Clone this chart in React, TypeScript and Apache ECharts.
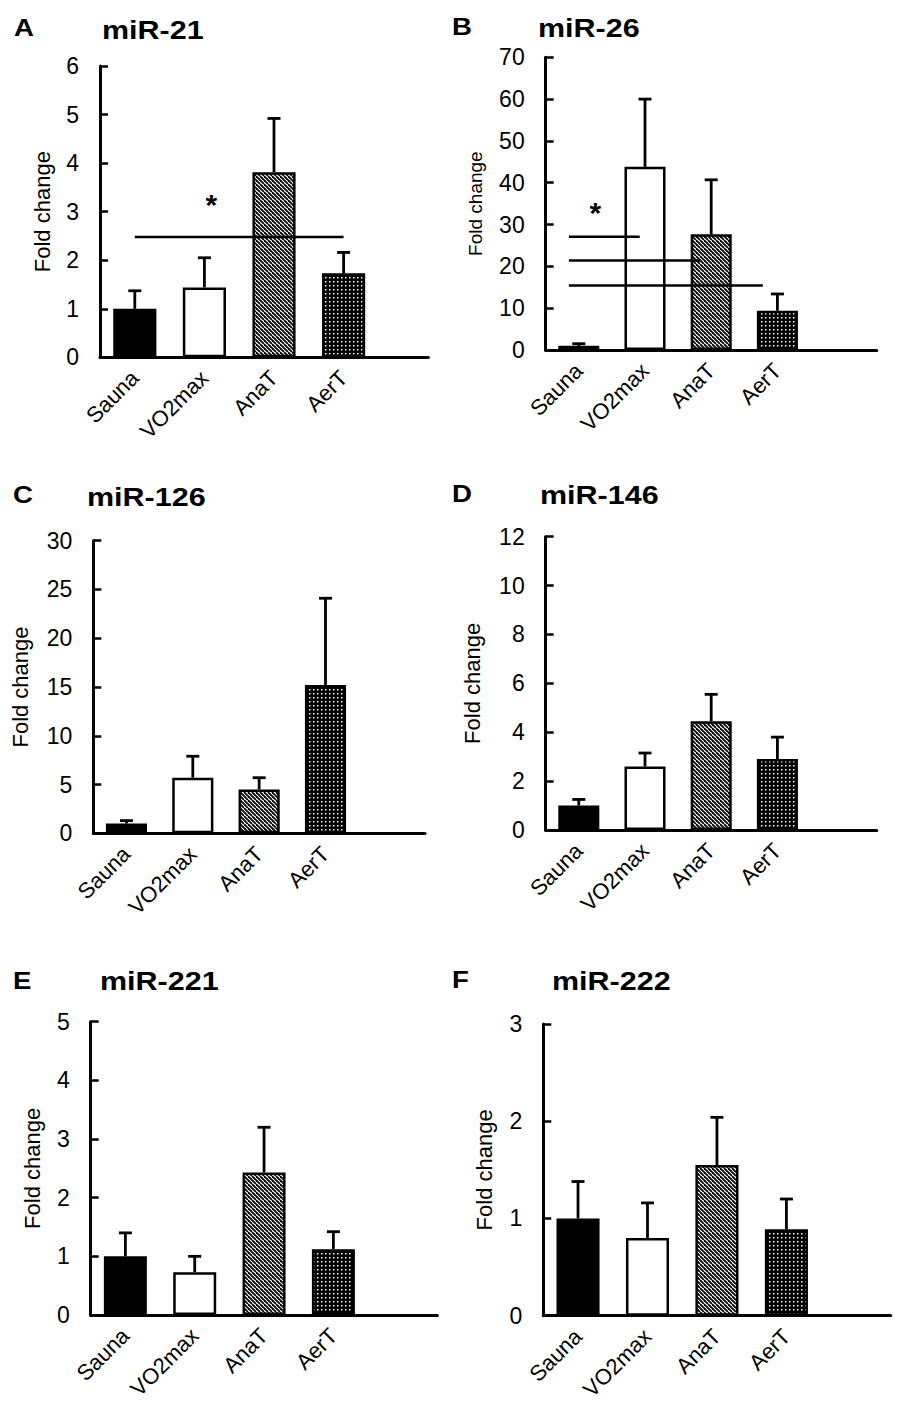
import React, { useEffect, useRef } from "react";
import * as echarts from "echarts";

// ---------------- data ----------------
const categories = ["Sauna", "VO2max", "AnaT", "AerT"];
const panelLetters = ["A", "B", "C", "D", "E", "F"];
const panelTitles = ["miR-21", "miR-26", "miR-126", "miR-146", "miR-221", "miR-222"];

const meanA = [1.0, 1.44, 3.81, 1.73];
const errA = [1.37, 2.05, 4.92, 2.16];
const meanB = [1.0, 43.8, 27.7, 9.4];
const errB = [1.5, 60.0, 40.7, 13.4];
const meanC = [1.0, 5.7, 4.5, 15.2];
const errC = [1.3, 7.9, 5.7, 24.1];
const meanD = [1.0, 2.6, 4.45, 2.9];
const errD = [1.25, 3.15, 5.55, 3.8];
const meanE = [1.0, 0.73, 2.43, 1.12];
const errE = [1.4, 1.0, 3.2, 1.42];
const meanF = [1.0, 0.8, 1.55, 0.89];
const errF = [1.38, 1.16, 2.04, 1.2];

const yMaxes = [6, 70, 30, 12, 5, 3];
const ySteps = [1, 10, 5, 2, 1, 1];

// significance lines: [from (category units), to (category units), y]
const sigA = [[0, 3, 2.48]];
const sigB = [
  [-0.15, 0.92, 27.1],
  [-0.15, 1.84, 21.4],
  [-0.15, 2.78, 15.4],
];
const starA = [[1.1, 3.15]];
const starB = [[0.25, 32.8]];
const sigEmpty: number[][] = [];

const means = [meanA, meanB, meanC, meanD, meanE, meanF];
const errs = [errA, errB, errC, errD, errE, errF];
const sigs = [sigA, sigB, sigEmpty, sigEmpty, sigEmpty, sigEmpty];
const stars = [starA, starB, sigEmpty, sigEmpty, sigEmpty, sigEmpty];

// ---------------- layout ----------------
const FONT = "'Liberation Sans', Arial, Helvetica, sans-serif";
const layout = [
  { left: 100, top: 66, height: 291.3, width: 348, line: 328.3, nameGap: 47, nameSize: 22 },
  { left: 545.7, top: 57.3, height: 292.7, width: 331, line: 331, nameGap: 61, nameSize: 19 },
  { left: 93.3, top: 540.7, height: 292.6, width: 331.7, line: 331.7, nameGap: 62, nameSize: 22 },
  { left: 545.7, top: 536.7, height: 293.3, width: 331, line: 331, nameGap: 62, nameSize: 22 },
  { left: 90.7, top: 1021.7, height: 293.3, width: 346.7, line: 346.7, nameGap: 47, nameSize: 22 },
  { left: 543.3, top: 1024, height: 291.7, width: 347.3, line: 347.3, nameGap: 48, nameSize: 22 },
];
const letterPos = [
  [14, 27.7], [452, 26.7], [13, 494.7], [452, 493.3], [13, 980.8], [452, 980],
];
const titlePos = [
  [102, 30], [538, 28.7], [87, 497.5], [540, 495], [100, 981.7], [552, 981.3],
];

function makeHatch(): string {
  const c = document.createElement("canvas");
  c.width = 8;
  c.height = 8;
  const ctx = c.getContext("2d")!;
  ctx.fillStyle = "#fff";
  ctx.fillRect(0, 0, 8, 8);
  ctx.strokeStyle = "#000";
  ctx.lineWidth = 1.8;
  for (let k = -8; k <= 8; k += 4) {
    ctx.beginPath();
    ctx.moveTo(k, 0);
    ctx.lineTo(k + 8, 8);
    ctx.stroke();
  }
  return c.toDataURL();
}

function makeDots(): string {
  const c = document.createElement("canvas");
  c.width = 8;
  c.height = 8;
  const ctx = c.getContext("2d")!;
  ctx.fillStyle = "#000";
  ctx.fillRect(0, 0, 8, 8);
  ctx.fillStyle = "#fff";
  for (let x = 1; x < 8; x += 4) {
    for (let y = 1; y < 8; y += 4) {
      ctx.fillRect(x, y, 1.5, 1.5);
    }
  }
  return c.toDataURL();
}

export default function App() {
  const ref = useRef<HTMLDivElement>(null);

  useEffect(() => {
    document.body.style.margin = "0";
    if (!ref.current) return;
    const chart = echarts.init(ref.current, null, { renderer: "svg" });

    const hatch = { image: makeHatch(), repeat: "repeat", imageWidth: 8, imageHeight: 8 };
    const dots = { image: makeDots(), repeat: "repeat", imageWidth: 8, imageHeight: 8 };
    const fills: any[] = ["#000", "#fff", hatch, dots];

    const grids: any[] = [];
    const xAxes: any[] = [];
    const yAxes: any[] = [];
    const series: any[] = [];
    const graphics: any[] = [];

    layout.forEach((L) => {
      grids.push({ left: L.left, top: L.top, width: L.width, height: L.height });
    });
    layout.forEach((L) => {
      grids.push({ left: L.left, top: L.top, width: L.line, height: L.height });
    });

    layout.forEach((L, p) => {
      // category axis (labels only)
      xAxes.push({
        type: "category",
        gridIndex: p,
        data: [...categories, ""],
        axisLine: { show: false, onZero: false },
        axisTick: { show: false },
        axisLabel: {
          rotate: 45,
          interval: 0,
          margin: 17,
          fontSize: 22,
          color: "#000",
          fontFamily: FONT,
        },
      });
      // hidden value axis for significance marks (category units)
      xAxes.push({
        type: "value",
        gridIndex: p,
        position: "top",
        min: -0.5,
        max: 4.5,
        show: false,
        axisLine: { onZero: false },
      });
      // baseline axis
      xAxes.push({
        type: "value",
        gridIndex: 6 + p,
        min: 0,
        max: 1,
        axisLine: { show: true, onZero: false, lineStyle: { color: "#000", width: 3 } },
        axisTick: { show: false },
        axisLabel: { show: false },
        splitLine: { show: false },
      });

      yAxes.push({
        type: "value",
        gridIndex: p,
        min: 0,
        max: yMaxes[p],
        interval: ySteps[p],
        name: "Fold change",
        nameLocation: "middle",
        nameGap: L.nameGap,
        nameTextStyle: { fontSize: L.nameSize, color: "#000", fontFamily: FONT },
        axisLine: { show: true, onZero: false, lineStyle: { color: "#000", width: 3 } },
        axisTick: { show: true, inside: true, length: 8, lineStyle: { color: "#000", width: 2.5 } },
        axisLabel: { fontSize: 23, color: "#000", margin: 21, fontFamily: FONT },
        splitLine: { show: false },
      });
      yAxes.push({
        type: "value",
        gridIndex: 6 + p,
        min: 0,
        max: 1,
        show: false,
        axisLine: { onZero: false },
      });

      series.push({
        type: "bar",
        xAxisIndex: 3 * p,
        yAxisIndex: 2 * p,
        barWidth: "62%",
        z: 2,
        data: means[p].map((v, i) => ({
          value: v,
          itemStyle: { color: fills[i], borderColor: "#000", borderWidth: 2.5 },
        })),
      });

      series.push({
        type: "custom",
        xAxisIndex: 3 * p,
        yAxisIndex: 2 * p,
        z: 3,
        encode: { x: 0, y: [1, 2] },
        data: means[p].map((m, i) => [i, m, errs[p][i]]),
        renderItem: (params: any, api: any) => {
          const x = api.value(0);
          const p0 = api.coord([x, api.value(1)]);
          const p1 = api.coord([x, api.value(2)]);
          const half = 6.5;
          return {
            type: "group",
            children: [
              {
                type: "line",
                shape: { x1: p0[0], y1: p0[1], x2: p1[0], y2: p1[1] },
                style: { stroke: "#000", lineWidth: 2.8 },
              },
              {
                type: "line",
                shape: { x1: p1[0] - half, y1: p1[1], x2: p1[0] + half, y2: p1[1] },
                style: { stroke: "#000", lineWidth: 2.8 },
              },
            ],
          };
        },
      });

      if (sigs[p].length) {
        series.push({
          type: "custom",
          xAxisIndex: 3 * p + 1,
          yAxisIndex: 2 * p,
          z: 5,
          encode: { x: [0, 1], y: 2 },
          data: sigs[p],
          renderItem: (params: any, api: any) => {
            const a = api.coord([api.value(0), api.value(2)]);
            const b = api.coord([api.value(1), api.value(2)]);
            return {
              type: "line",
              shape: { x1: a[0], y1: a[1], x2: b[0], y2: b[1] },
              style: { stroke: "#000", lineWidth: 2.5 },
            };
          },
        });
      }
      if (stars[p].length) {
        series.push({
          type: "custom",
          xAxisIndex: 3 * p + 1,
          yAxisIndex: 2 * p,
          z: 5,
          encode: { x: 0, y: 1 },
          data: stars[p],
          renderItem: (params: any, api: any) => {
            const a = api.coord([api.value(0), api.value(1)]);
            return {
              type: "text",
              x: a[0],
              y: a[1],
              style: {
                text: "*",
                fontSize: 30,
                fontWeight: "bold",
                fontFamily: FONT,
                fill: "#000",
                align: "center",
                verticalAlign: "middle",
                textAlign: "center",
                textVerticalAlign: "middle",
              },
            };
          },
        });
      }

      graphics.push({
        type: "text",
        x: letterPos[p][0],
        y: letterPos[p][1],
        scaleX: 1.15,
        style: {
          text: panelLetters[p],
          fontSize: 24,
          fontWeight: "bold",
          fontFamily: FONT,
          fill: "#000",
          align: "left",
          verticalAlign: "middle",
          textAlign: "left",
          textVerticalAlign: "middle",
        },
      });
      graphics.push({
        type: "text",
        x: titlePos[p][0],
        y: titlePos[p][1],
        scaleX: 1.22,
        style: {
          text: panelTitles[p],
          fontSize: 25,
          fontWeight: "bold",
          fontFamily: FONT,
          fill: "#000",
          align: "left",
          verticalAlign: "middle",
          textAlign: "left",
          textVerticalAlign: "middle",
        },
      });
    });

    chart.setOption({
      animation: false,
      backgroundColor: "#fff",
      textStyle: { fontFamily: FONT },
      grid: grids,
      xAxis: xAxes,
      yAxis: yAxes,
      series,
      graphic: graphics,
    });

    return () => chart.dispose();
  }, []);

  return <div ref={ref} style={{ width: 904, height: 1425 }} />;
}
